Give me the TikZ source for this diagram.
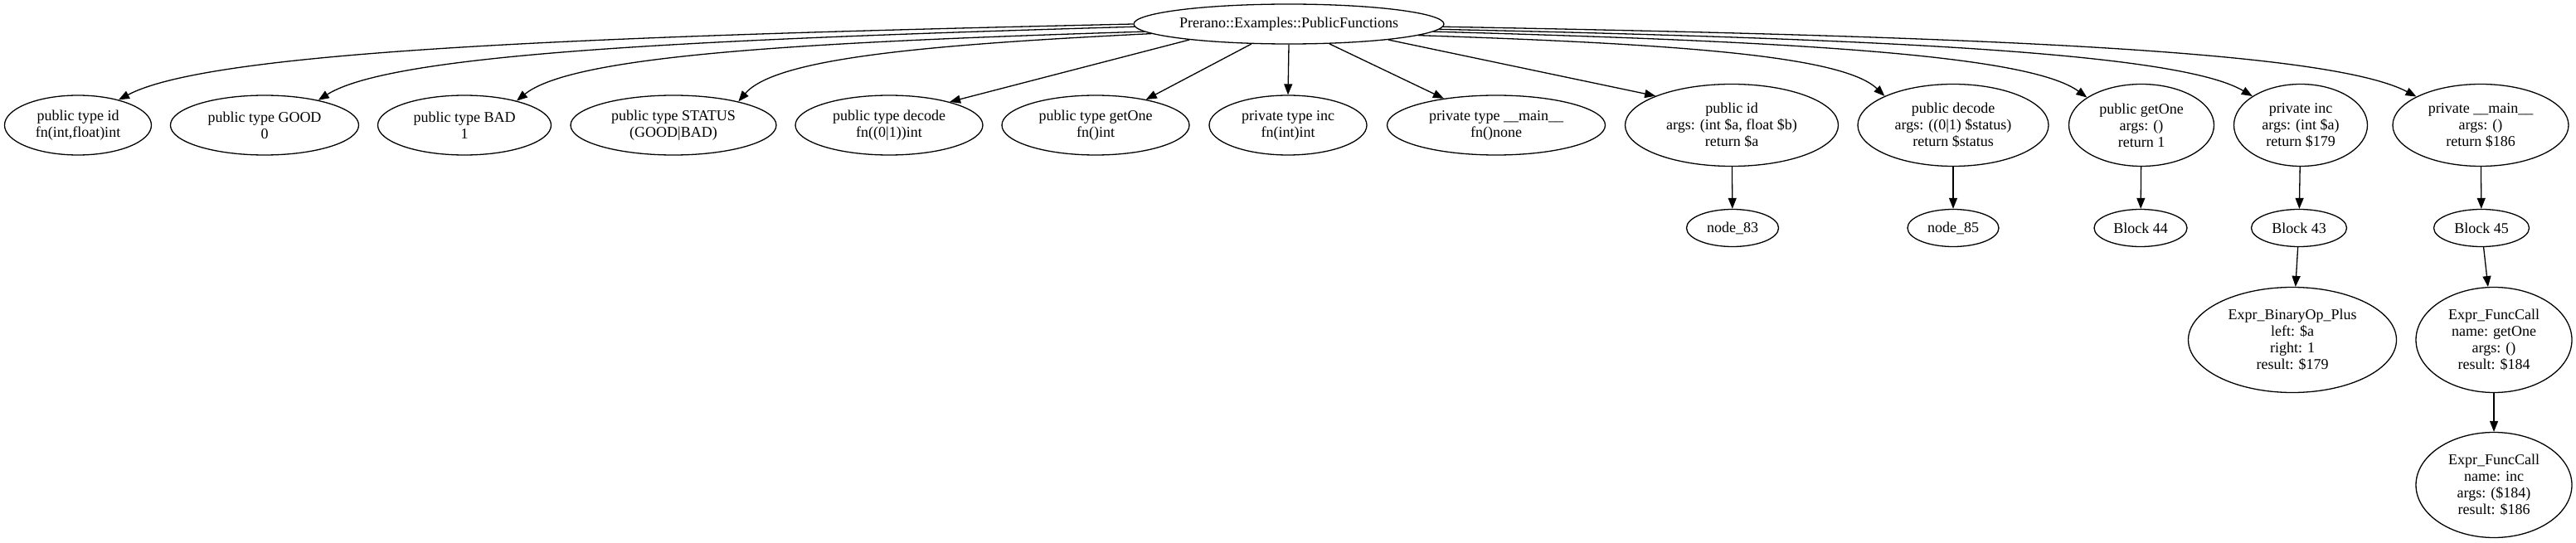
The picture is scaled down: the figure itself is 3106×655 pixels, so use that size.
\documentclass[tikz,border=0pt]{standalone}
\usepackage{fontspec}
\setmainfont{Liberation Serif}
\usetikzlibrary{shapes.geometric,arrows.meta}
\tikzset{
  gv/.style={draw, ellipse, line width=1.3pt, inner sep=0pt, align=center,
    font=\fontsize{18}{20}\selectfont},
  edge/.style={draw, line width=1.3pt, -{Triangle[length=13pt,width=10pt]}}
}
\begin{document}
\begin{tikzpicture}[x=1pt,y=-1pt]
\useasboundingbox (0,0) rectangle (3106,655);
% root
\node[gv, minimum width=374, minimum height=48] (root) at (1554,29) {Prerano::Examples::PublicFunctions};
% rank 1
\node[gv, minimum width=177, minimum height=72] (t1) at (94,151) {public type id\\fn(int,float)int};
\node[gv, minimum width=227, minimum height=72] (t2) at (319,151) {public type GOOD\\0};
\node[gv, minimum width=209, minimum height=72] (t3) at (560,151) {public type BAD\\1};
\node[gv, minimum width=248, minimum height=72] (t4) at (812,151) {public type STATUS\\(GOOD|BAD)};
\node[gv, minimum width=226, minimum height=72] (t5) at (1072,151) {public type decode\\fn((0|1))int};
\node[gv, minimum width=226, minimum height=72] (t6) at (1321,151) {public type getOne\\fn()int};
\node[gv, minimum width=190, minimum height=72] (t7) at (1553,151) {private type inc\\fn(int)int};
\node[gv, minimum width=263, minimum height=72] (t8) at (1804,151) {private type \_\_main\_\_\\fn()none};
\node[gv, minimum width=257, minimum height=99] (f1) at (2088,151) {public id\\args: (int \$a, float \$b)\\return \$a};
\node[gv, minimum width=230, minimum height=99] (f2) at (2355,151) {public decode\\args: ((0|1) \$status)\\return \$status};
\node[gv, minimum width=175, minimum height=99] (f3) at (2582,151) {public getOne\\args: ()\\return 1};
\node[gv, minimum width=161, minimum height=99] (f4) at (2774,151) {private inc\\args: (int \$a)\\return \$179};
\node[gv, minimum width=212, minimum height=99] (f5) at (2991,151) {private \_\_main\_\_\\args: ()\\return \$186};
% rank 2
\node[gv, minimum width=111, minimum height=45] (n83) at (2089,275) {node\_83};
\node[gv, minimum width=110, minimum height=45] (n85) at (2355,275) {node\_85};
\node[gv, minimum width=112, minimum height=45] (b44) at (2581,275) {Block 44};
\node[gv, minimum width=115, minimum height=45] (b43) at (2772,275) {Block 43};
\node[gv, minimum width=115, minimum height=45] (b45) at (2992,275) {Block 45};
% rank 3
\node[gv, minimum width=251, minimum height=127] (binop) at (2764,410) {Expr\_BinaryOp\_Plus\\left: \$a\\right: 1\\result: \$179};
\node[gv, minimum width=188, minimum height=127] (fc1) at (3007,410) {Expr\_FuncCall\\name: getOne\\args: ()\\result: \$184};
% rank 4
\node[gv, minimum width=188, minimum height=127] (fc2) at (3007,585) {Expr\_FuncCall\\name: inc\\args: (\$184)\\result: \$186};
% edges from root
\path[edge] (root.180.6) .. controls (694,44) and (253,62) .. (t1.32);
\path[edge] (root.181.9) .. controls (828,48) and (472,65) .. (t2.25);
\path[edge] (root.183) .. controls (964,51) and (690,67) .. (t3.25);
\path[edge] (root.184.7) .. controls (1118,54) and (935,70) .. (t4.20);
\path[edge] (root.189.5) -- (t5.21.5);
\path[edge] (root.208) -- (t6.27.5);
\path[edge] (root.270) -- (t7.90);
\path[edge] (root.334) -- (t8.153);
\path[edge] (root.351.7) -- (f1.159);
\path[edge] (root.355.3) .. controls (2020,53) and (2222,67) .. (f2.157);
\path[edge] (root.357) .. controls (2162,50) and (2446,66) .. (f3.153);
\path[edge] (root.358) .. controls (2275,47) and (2628,64) .. (f4.149);
\path[edge] (root.359.4) .. controls (2386,44) and (2808,61) .. (f5.156);
% lower edges
\path[edge] (f1) -- (n83);
\path[edge] (f2) -- (n85);
\path[edge] (f3) -- (b44);
\path[edge] (f4) -- (b43);
\path[edge] (f5) -- (b45);
\path[edge] (b43) -- (binop);
\path[edge] (b45) -- (fc1);
\path[edge] (fc1) -- (fc2);
\end{tikzpicture}
\end{document}
